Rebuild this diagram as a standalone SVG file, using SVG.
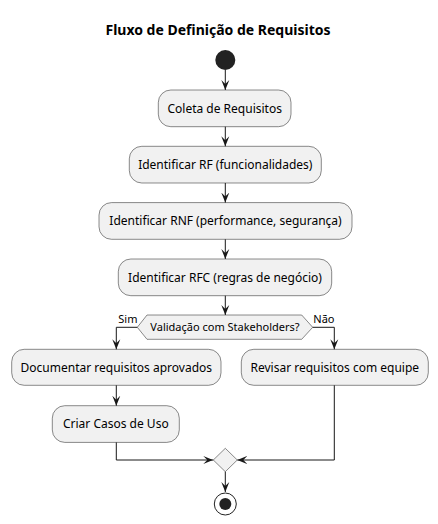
<svg xmlns="http://www.w3.org/2000/svg" width="438" height="524" viewBox="0 0 438 524">
<defs>
<style>
.box{fill:#F1F1F1;stroke:#181818;stroke-width:0.5}
.t{font-family:"Noto Sans","DejaVu Sans",sans-serif;font-size:12px;fill:#000;text-anchor:middle}
.lbl{font-family:"Noto Sans","DejaVu Sans",sans-serif;font-size:11px;fill:#000}
.ln{fill:none;stroke:#181818;stroke-width:1}
.title{font-family:"Noto Sans","DejaVu Sans",sans-serif;font-size:14px;font-weight:bold;fill:#000;text-anchor:middle}
</style>
<marker id="ah" viewBox="0 0 10 10" refX="10" refY="5" markerWidth="10" markerHeight="10" markerUnits="userSpaceOnUse" orient="auto">
<path d="M0,1 L10,5 L0,9 L4,5 Z" fill="#181818"/>
</marker>
</defs>
<rect width="438" height="524" fill="#FFFFFF"/>
<text class="title" x="218" y="35">Fluxo de Definição de Requisitos</text>

<g id="start"><circle cx="225.3" cy="60" r="10" fill="#222222"/></g>
<g id="n1"><rect class="box" x="158.3" y="90" width="132.7" height="36.7" rx="12.5"/><text class="t" x="224.7" y="112.7">Coleta de Requisitos</text></g>
<g id="n2"><rect class="box" x="129.3" y="146.3" width="192" height="36.7" rx="12.5"/><text class="t" x="225.3" y="169">Identificar RF (funcionalidades)</text></g>
<g id="n3"><rect class="box" x="99" y="202.6" width="253" height="36.7" rx="12.5"/><text class="t" x="225.5" y="225.3">Identificar RNF (performance, segurança)</text></g>
<g id="n4"><rect class="box" x="118.3" y="259" width="213.4" height="36.7" rx="12.5"/><text class="t" x="225" y="281.7">Identificar RFC (regras de negócio)</text></g>
<g id="dec"><polygon class="box" points="137.3,327.3 147,315 301.7,315 312.7,327.3 301.7,339.3 147,339.3"/><text class="lbl" x="225" y="331.3" text-anchor="middle">Validação com Stakeholders?</text></g>
<g id="n5"><rect class="box" x="11.7" y="349.3" width="209.3" height="36" rx="12.5"/><text class="t" x="116.3" y="371.7">Documentar requisitos aprovados</text></g>
<g id="n6"><rect class="box" x="241.3" y="349.3" width="187" height="36" rx="12.5"/><text class="t" x="334.8" y="371.7">Revisar requisitos com equipe</text></g>
<g id="n7"><rect class="box" x="52.3" y="405.7" width="127" height="36.7" rx="12.5"/><text class="t" x="115.8" y="428.3">Criar Casos de Uso</text></g>
<g id="merge"><polygon class="box" points="225.3,448.3 237.3,460 225.3,471.7 213.3,460"/></g>
<g id="end"><circle cx="225.3" cy="504" r="11" fill="none" stroke="#222222" stroke-width="1"/><circle cx="225.3" cy="504" r="6" fill="#222222"/></g>

<g id="connectors">
<line class="ln" x1="225.3" y1="70" x2="225.3" y2="90" marker-end="url(#ah)"/>
<line class="ln" x1="225.3" y1="126.7" x2="225.3" y2="146.3" marker-end="url(#ah)"/>
<line class="ln" x1="225.3" y1="183" x2="225.3" y2="202.6" marker-end="url(#ah)"/>
<line class="ln" x1="225.3" y1="239.3" x2="225.3" y2="259" marker-end="url(#ah)"/>
<line class="ln" x1="225.3" y1="295.7" x2="225.3" y2="315" marker-end="url(#ah)"/>
<polyline class="ln" points="137.3,327.3 116.3,327.3 116.3,349.3" marker-end="url(#ah)"/>
<polyline class="ln" points="312.7,327.3 334.3,327.3 334.3,349.3" marker-end="url(#ah)"/>
<line class="ln" x1="116.3" y1="385.3" x2="116.3" y2="405.7" marker-end="url(#ah)"/>
<polyline class="ln" points="116.3,442.4 116.3,460 213.3,460" marker-end="url(#ah)"/>
<polyline class="ln" points="334.3,385.3 334.3,460 237.3,460" marker-end="url(#ah)"/>
<line class="ln" x1="225.3" y1="471.7" x2="225.3" y2="492" marker-end="url(#ah)"/>
<text class="lbl" x="118.3" y="323">Sim</text>
<text class="lbl" x="313.3" y="323">Não</text>
</g>
</svg>
